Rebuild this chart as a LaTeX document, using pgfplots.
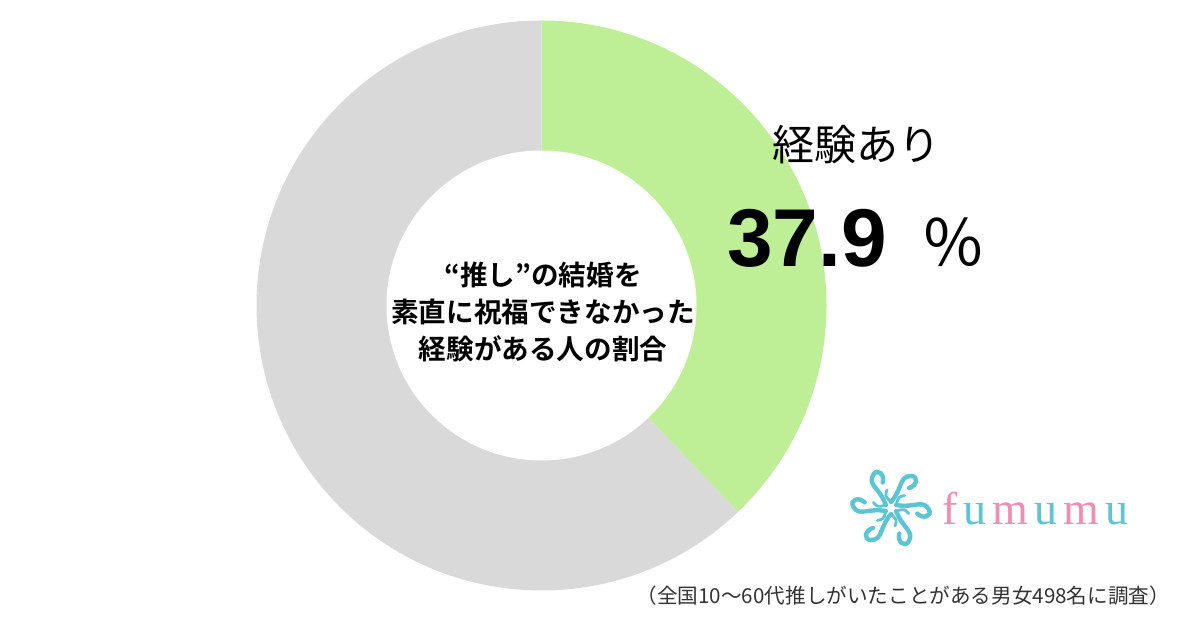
\documentclass[border=0pt]{standalone}
\usepackage{pgfplots}
\usepackage{pgfplotstable}
\pgfplotsset{compat=1.18}
\usepackage{fontspec}
\setmainfont{Liberation Sans}
\newfontfamily\jp{Noto Sans CJK JP}
\newfontfamily\jpb{Noto Sans CJK JP Bold}
\newfontfamily\serif{Liberation Serif}

\definecolor{yesgreen}{HTML}{BEEE96}
\definecolor{nogrey}{HTML}{D9D9D9}
\definecolor{fpink}{HTML}{EE8DB6}
\definecolor{fteal}{HTML}{5CC5D3}
\definecolor{notegrey}{HTML}{333333}

% share of respondents (%)
\pgfplotstableread{
label value
yes   37.9
no    62.1
}\donutdata

\begin{document}
\begin{tikzpicture}
\pgfplotstablegetelem{0}{value}\of\donutdata
\let\valyes\pgfplotsretval
\pgfmathsetmacro{\angyes}{90-3.6*\valyes}
\def\rout{142.5pt}
\def\rin{77.5pt}
\begin{axis}[
    width=600pt, height=321pt, scale only axis,
    xmin=0, xmax=1200, ymin=0, ymax=642,
    hide axis, clip=false,
]
\path[fill=white] (axis cs:0,0) rectangle (axis cs:1200,642);
% donut slices, clockwise from the top
\fill[yesgreen] (axis cs:541.5,336.5) -- ++(90:\rout)
    arc[start angle=90, end angle=\angyes, radius=\rout] -- cycle;
\fill[nogrey] (axis cs:541.5,336.5) -- ++(\angyes:\rout)
    arc[start angle=\angyes, end angle=-270, radius=\rout] -- cycle;
\fill[white] (axis cs:541.5,336.5) circle[radius=\rin];

% centre caption
\node[align=center, font=\jpb\fontsize{13.8pt}{18.5pt}\selectfont]
    at (axis cs:543,330) {“推し”の結婚を\\素直に祝福できなかった\\経験がある人の割合};

% slice label
\node[font=\jp\fontsize{21pt}{24pt}\selectfont] at (axis cs:856,497) {経験あり};
\node[anchor=base west, inner sep=0pt, font=\bfseries\fontsize{41pt}{44pt}\selectfont]
    at (axis cs:727,375) {\valyes};
\node[anchor=base west, inner sep=0pt, font=\jp\fontsize{32pt}{36pt}\selectfont]
    at (axis cs:921,375) {％};

\coordinate (logo) at (axis cs:891,134);
\node[anchor=base west, inner sep=0pt, font=\serif\fontsize{23pt}{26pt}\selectfont]
    at (axis cs:942,117) {\color{fpink}f\kern3pt\color{fteal}u\kern3pt\color{fpink}m\kern3pt\color{fteal}u\kern3pt\color{fpink}m\kern3pt\color{fteal}u};

% footnote
\node[anchor=east, text=notegrey, font=\jp\fontsize{10.3pt}{12pt}\selectfont]
    at (axis cs:1177,46) {（全国10〜60代推しがいたことがある男女498名に調査）};
\end{axis}
% logo mark
\begin{scope}[shift={(logo)}, line width=2.2pt, fteal, line cap=round]
  \foreach \k in {0,60,...,300}{
    \draw[rotate=\k] (0,3pt) .. controls (6pt,10pt) and (4pt,16pt) .. (10pt,16pt)
        .. controls (14pt,16pt) and (13pt,11pt) .. (9pt,10pt);
    \draw[rotate=\k, line width=1.4pt] (0,3pt) .. controls (-3pt,6pt) .. (-2pt,9pt);
  }
\end{scope}
\end{tikzpicture}
\end{document}
